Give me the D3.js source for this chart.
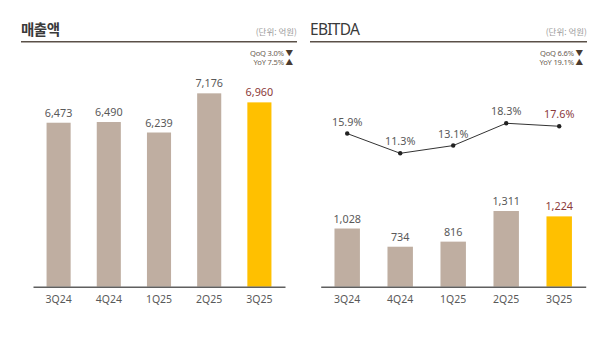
<!DOCTYPE html>
<html>
<head>
<meta charset="utf-8">
<script src="https://cdn.jsdelivr.net/npm/d3@7"></script>
<style>
  body { margin: 0; background: #fff; }
  svg { display: block; font-family: "Noto Sans", "Noto Sans CJK KR", sans-serif; }
</style>
</head>
<body>
<svg id="chart" width="600" height="363"></svg>
<script>
const quarters = ["3Q24", "4Q24", "1Q25", "2Q25", "3Q25"];
const sales = [6473, 6490, 6239, 7176, 6960];
const ebitda = [1028, 734, 816, 1311, 1224];
const margin = [15.9, 11.3, 13.1, 18.3, 17.6];
const salesChange = ["QoQ 3.0%", "YoY 7.5%"];
const ebitdaChange = ["QoQ 6.6%", "YoY 19.1%"];
const changeArrows = ["▼", "▲"];

const barColor = "#bfaea1";
const hiColor = "#ffc000";
const textColor = "#595959";
const hiText = "#8b3a3a";
const baseY = 286.7;

const svg = d3.select("#chart");

function header(x0, x1, title, bold, changes) {
  svg.append("text")
    .attr("x", x0).attr("y", 35)
    .attr("font-size", bold ? 14.5 : 15.5)
    .attr("font-weight", bold ? 700 : 400)
    .attr("letter-spacing", bold ? -0.5 : -0.7)
    .attr("font-family", bold ? "'Noto Sans CJK KR'" : "'Noto Sans'")
    .attr("fill", "#3a3a3a")
    .text(title);

  svg.append("text")
    .attr("x", x1).attr("y", 35)
    .attr("text-anchor", "end")
    .attr("font-size", 8.5)
    .attr("font-family", "'Noto Sans CJK KR'")
    .attr("fill", "#9a9a9a")
    .text("(단위: 억원)");

  svg.append("line")
    .attr("x1", x0).attr("x2", x1)
    .attr("y1", 41.7).attr("y2", 41.7)
    .attr("stroke", "#5a5048").attr("stroke-width", 1.4);

  changes.forEach((c, i) => {
    const t = svg.append("text")
      .attr("x", x1 - 4).attr("y", 55.5 + i * 9.6)
      .attr("text-anchor", "end")
      .attr("font-size", 7.6)
      .attr("fill", "#6b5d52")
      .attr("letter-spacing", -0.2);
    t.append("tspan").text(c + " ");
    t.append("tspan").attr("fill", "#4a3b30").text(changeArrows[i]);
  });
}

function bars(x, y, values, fmt) {
  const g = svg.append("g");
  g.selectAll("rect").data(values).join("rect")
    .attr("x", (d, i) => x(quarters[i]))
    .attr("y", d => y(d))
    .attr("width", x.bandwidth())
    .attr("height", d => baseY - y(d))
    .attr("fill", (d, i) => i === values.length - 1 ? hiColor : barColor);

  g.selectAll("text").data(values).join("text")
    .attr("x", (d, i) => x(quarters[i]) + x.bandwidth() / 2)
    .attr("y", d => y(d) - 6)
    .attr("text-anchor", "middle")
    .attr("font-size", 10.8)
    .attr("fill", (d, i) => i === values.length - 1 ? hiText : textColor)
    .text(fmt);

  const ax = svg.append("g")
    .attr("transform", `translate(0,${baseY})`)
    .call(d3.axisBottom(x).tickSize(0).tickPadding(9));
  ax.select(".domain").attr("stroke", "#5f5f5f").attr("stroke-width", 1.5);
  ax.selectAll("text")
    .attr("font-size", 10.5)
    .attr("font-family", "'Noto Sans'")
    .attr("fill", textColor);
}

// left panel: sales
header(21, 297, "매출액", true, salesChange);
const x1 = d3.scaleBand().domain(quarters).range([33, 285]).paddingInner(0.52).paddingOuter(0.27);
const y1 = d3.scaleLinear().domain([2550, 8000]).range([baseY, 58.9]);
bars(x1, y1, sales, d3.format(","));

// right panel: EBITDA + margin line
header(310, 587, "EBITDA", false, ebitdaChange);
const x2 = d3.scaleBand().domain(quarters).range([320.7, 585.7]).paddingInner(0.52).paddingOuter(0.26);
const y2 = d3.scaleLinear().domain([88, 1500]).range([baseY, 199.3]);
bars(x2, y2, ebitda, d3.format(","));

const yM = d3.scaleLinear().domain([0, 25]).range([201.8, 94.5]);
const cx = (d, i) => x2(quarters[i]) + x2.bandwidth() / 2;
svg.append("path")
  .datum(margin)
  .attr("fill", "none")
  .attr("stroke", "#333")
  .attr("stroke-width", 1)
  .attr("d", d3.line().x(cx).y(d => yM(d)));
svg.append("g").selectAll("circle").data(margin).join("circle")
  .attr("cx", cx).attr("cy", d => yM(d)).attr("r", 2.2).attr("fill", "#222");
svg.append("g").selectAll("text").data(margin).join("text")
  .attr("x", cx).attr("y", d => yM(d) - 8)
  .attr("text-anchor", "middle")
  .attr("font-size", 10.8)
  .attr("fill", (d, i) => i === margin.length - 1 ? hiText : textColor)
  .text(d => d.toFixed(1) + "%");
</script>
</body>
</html>
